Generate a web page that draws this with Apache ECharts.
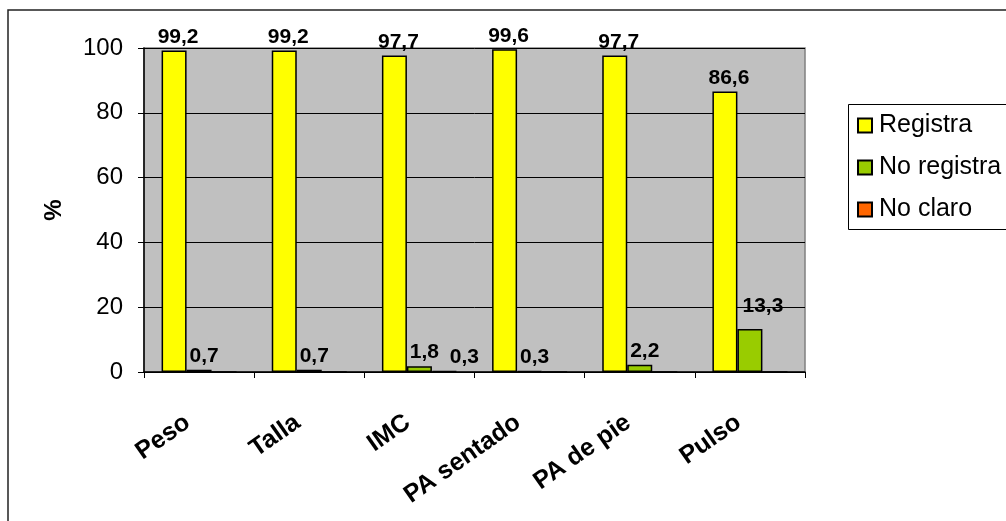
<!DOCTYPE html>
<html>
<head>
<meta charset="utf-8">
<script src="https://cdn.jsdelivr.net/npm/echarts@6/dist/echarts.min.js"></script>
<style>
html,body{margin:0;padding:0;background:#fff;}
#c{width:1006px;height:521px;}
</style>
</head>
<body>
<div id="c"></div>
<script>
const categories = ['Peso', 'Talla', 'IMC', 'PA sentado', 'PA de pie', 'Pulso'];
const registra = [99.2, 99.2, 97.7, 99.6, 97.7, 86.6];
const noRegistra = [0.7, 0.7, 1.8, 0.3, 2.2, 13.3];
const noClaro = [0, 0, 0.3, 0, 0, 0];
const yTicks = [0, 20, 40, 60, 80, 100];
const seriesNames = ['Registra', 'No registra', 'No claro'];

const FONT = '"Liberation Sans", Arial, sans-serif';
const chart = echarts.init(document.getElementById('c'), null, {renderer: 'canvas'});

function fmt(p) {
  if (!p.value) return '';
  return String(p.value).replace('.', ',');
}
function mkSeries(name, data, color, offset) {
  return {
    name: name,
    type: 'bar',
    data: data,
    barWidth: 25,
    barGap: '0%',
    itemStyle: {color: color, borderColor: '#000', borderWidth: 1.5},
    label: {
      show: true, position: 'top', distance: 3, offset: offset,
      formatter: fmt,
      fontFamily: FONT, fontWeight: 'bold', fontSize: 21, color: '#000'
    }
  };
}

// the last green label sits higher/right in the original
const greenData = noRegistra.map((v, i) => i === noRegistra.length - 1
  ? {value: v, label: {offset: [13, -9]}} : v);

chart.setOption({
  animation: false,
  backgroundColor: '#fff',
  graphic: [{
    type: 'rect', shape: {x: 8, y: 10, width: 1020, height: 530},
    style: {fill: 'none', stroke: '#222', lineWidth: 1.5}, silent: true, z: -1
  }, {
    type: 'rect', shape: {x: 848.5, y: 104.5, width: 200, height: 125},
    style: {fill: '#fff', stroke: '#000', lineWidth: 1}, silent: true, z: 0
  }],
  grid: {
    left: 144, right: 201, top: 48, bottom: 149,
    show: true, backgroundColor: '#C0C0C0', borderColor: '#808080', borderWidth: 1.5,
    outerBoundsMode: 'none'
  },
  legend: {
    orient: 'vertical', left: 848, top: 104, z: 5,
    data: seriesNames,
    icon: 'rect', itemWidth: 14, itemHeight: 14, itemGap: 17,
    padding: [9, 5, 8, 9],
    textStyle: {fontFamily: FONT, fontSize: 25, color: '#000', padding: [0, 0, 0, 2]}
  },
  xAxis: {
    type: 'category', data: categories,
    axisLine: {show: true, lineStyle: {color: '#000', width: 1.5}},
    axisTick: {show: true, alignWithLabel: false, length: 6, lineStyle: {color: '#000'}},
    axisLabel: {
      rotate: 35, margin: 40, interval: 0,
      fontFamily: FONT, fontWeight: 'bold', fontSize: 25, color: '#000',
      padding: [0, 14, 0, 0]
    }
  },
  yAxis: {
    type: 'value', min: yTicks[0], max: yTicks[yTicks.length - 1], interval: 20,
    name: '%', nameLocation: 'middle', nameGap: 78, nameRotate: 90,
    nameTextStyle: {fontFamily: FONT, fontWeight: 'bold', fontSize: 24, color: '#000'},
    axisLine: {show: true, lineStyle: {color: '#000', width: 1.5}},
    axisTick: {show: true, length: 6, lineStyle: {color: '#000'}},
    axisLabel: {fontFamily: FONT, fontSize: 24, color: '#000', margin: 21},
    splitLine: {show: true, lineStyle: {color: '#000', width: 1}}
  },
  series: [
    mkSeries(seriesNames[0], registra, '#FFFF00', [4, 0]),
    mkSeries(seriesNames[1], greenData, '#99CC00', [5, 0]),
    mkSeries(seriesNames[2], noClaro, '#FF6600', [20, 0])
  ]
});
</script>
</body>
</html>
